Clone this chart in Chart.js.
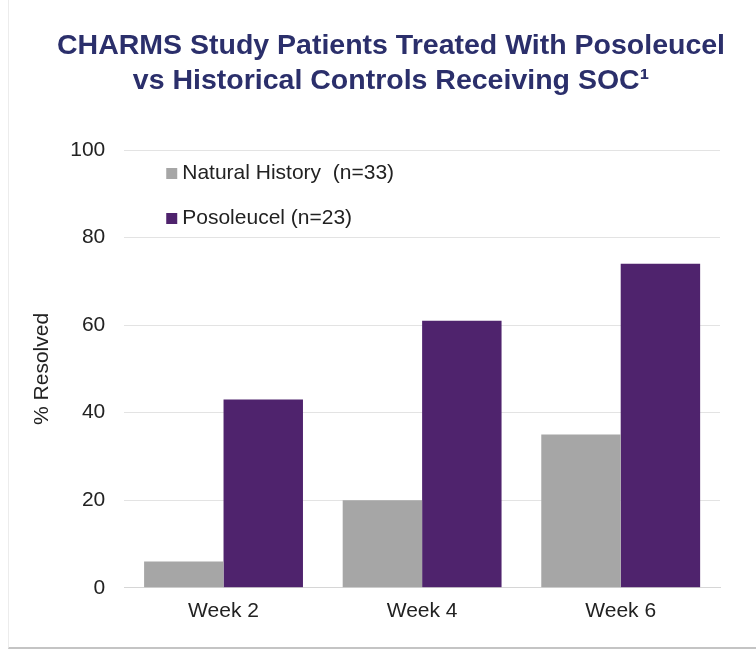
<!DOCTYPE html>
<html>
<head>
<meta charset="utf-8">
<script src="https://cdn.jsdelivr.net/npm/chart.js@4/dist/chart.umd.min.js"></script>
<style>
  html, body { margin: 0; padding: 0; background: #fff; }
  #wrap {
    position: relative;
    width: 756px;
    height: 652px;
  }
  #title {
    position: absolute;
    left: 26px; top: 27px; width: 730px;
    text-align: center;
    font: bold 28.5px/35px 'Liberation Sans', Arial, sans-serif;
    color: #2B2F6B;
  }
  #frame {
    position: absolute;
    left: 8px; top: 0; width: 748px; height: 649px;
    border-left: 1px solid #ececec;
    border-bottom: 2px solid #c4c4c4;
    box-sizing: border-box;
    pointer-events: none;
  }
</style>
</head>
<body>
<div id="wrap">
  <canvas id="chart" width="756" height="652"></canvas>
  <div id="title">CHARMS Study Patients Treated With Posoleucel<br>vs Historical Controls Receiving SOC&sup1;</div>
  <div id="frame"></div>
</div>
<script>
// data
const categories = ["Week 2", "Week 4", "Week 6"];
const naturalHistory = [6, 20, 35];
const posoleucel = [43, 61, 74];
const seriesLabels = ["Natural History  (n=33)", "Posoleucel (n=23)"];
const yTicks = [0, 20, 40, 60, 80, 100];

const FONT = "'Liberation Sans', Arial, sans-serif";

// legend drawn inside the plot, top-left, like the original slide
const insideLegend = {
  id: "insideLegend",
  afterDatasetsDraw(chart) {
    const { ctx, chartArea } = chart;
    ctx.save();
    ctx.font = "21px " + FONT;
    ctx.textBaseline = "middle";
    chart.data.datasets.forEach((ds, i) => {
      const x = chartArea.left + 42;
      const y = chartArea.top + 23 + i * 45;
      ctx.fillStyle = ds.backgroundColor;
      ctx.fillRect(x, y - 5, 11, 11);
      ctx.fillStyle = "#222";
      ctx.fillText(ds.label, x + 16, y);
    });
    ctx.restore();
  }
};

new Chart(document.getElementById("chart"), {
  type: "bar",
  data: {
    labels: categories,
    datasets: [
      { label: seriesLabels[0], data: naturalHistory, backgroundColor: "#A6A6A6" },
      { label: seriesLabels[1], data: posoleucel, backgroundColor: "#4F236D" }
    ]
  },
  options: {
    responsive: false,
    animation: false,
    layout: { padding: { left: 22, right: 36, top: 150, bottom: 17 } },
    datasets: { bar: { categoryPercentage: 0.8, barPercentage: 1.0 } },
    plugins: {
      legend: { display: false },
      tooltip: { enabled: false },
      title: { display: false }
    },
    scales: {
      x: {
        grid: { display: false, drawTicks: false },
        border: { color: "#d6d6d6", width: 1 },
        ticks: { color: "#222", font: { family: FONT, size: 21 }, padding: 11 }
      },
      y: {
        min: 0,
        max: 100,
        afterBuildTicks(scale) { scale.ticks = yTicks.map(v => ({ value: v })); },
        grid: { color: "#e3e3e3", drawTicks: false },
        border: { display: false },
        ticks: { color: "#222", font: { family: FONT, size: 21 }, padding: 19 },
        title: {
          display: true,
          text: "% Resolved",
          color: "#222",
          font: { family: FONT, size: 21 },
          padding: { top: 8, bottom: -4 }
        }
      }
    }
  },
  plugins: [insideLegend]
});
</script>
</body>
</html>
